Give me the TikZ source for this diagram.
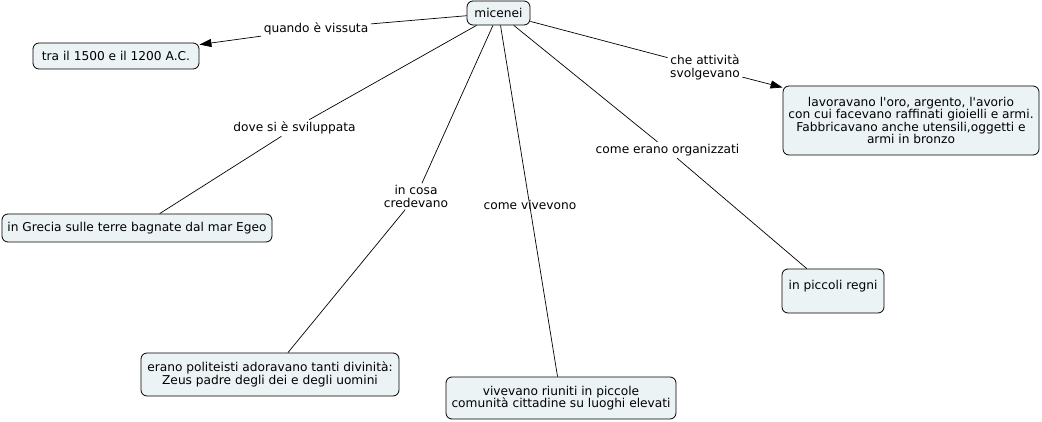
\documentclass[tikz,border=0pt]{standalone}
\usepackage{fontspec}
\setmainfont{DejaVu Sans}
\usetikzlibrary{arrows.meta}
\definecolor{cfill}{HTML}{ECF3F5}
\begin{document}
\begin{tikzpicture}[x=1pt,y=-1pt,
  every node/.style={font=\fontsize{12.2}{12.5}\selectfont, align=center},
  concept/.style={draw=black, line width=0.8pt, fill=cfill, rounded corners=6pt, inner sep=0pt},
  linklab/.style={inner xsep=2.5pt, inner ysep=2pt},
  conn/.style={draw=black, line width=0.7pt},
  arr/.style={conn, -{Triangle[length=12pt,width=8pt]}}]
\useasboundingbox[fill=white] (0,0) rectangle (1042,422);
% concepts
\node[concept, minimum width=63pt, minimum height=24pt] (mic) at (498.5,13) {micenei};
\node[concept, minimum width=166pt, minimum height=26pt] (tra) at (116,56) {tra il 1500 e il 1200 A.C.};
\node[concept, minimum width=270pt, minimum height=28pt] (gre) at (137,228) {in Grecia sulle terre bagnate dal mar Egeo};
\node[concept, minimum width=258pt, minimum height=43pt] (pol) at (270,374.5) {erano politeisti adoravano tanti divinità:\\Zeus padre degli dei e degli uomini};
\node[concept, minimum width=230pt, minimum height=42pt] (viv) at (561,398) {vivevano riuniti in piccole\\comunità cittadine su luoghi elevati};
\node[concept, minimum width=102pt, minimum height=44pt] (reg) at (833,291) {in piccoli regni\\\mbox{}};
\node[concept, minimum width=256pt, minimum height=69pt] (lav) at (911,120.5) {lavoravano l\textquotesingle oro, argento, l\textquotesingle avorio\\con cui facevano raffinati gioielli e armi.\\Fabbricavano anche utensili,oggetti e\\armi in bronzo};
% link labels
\node[linklab] (lq) at (316,28.6) {quando è vissuta};
\node[linklab] (ld) at (294.5,128) {dove si è sviluppata};
\node[linklab] (lc) at (416,196.5) {in cosa\\credevano};
\node[linklab] (lv) at (530,205) {come vivevono};
\node[linklab] (lo) at (667.5,150) {come erano organizzati};
\node[linklab] (la) at (705,67.5) {che attività\\svolgevano};
% connectors
\draw[conn] (mic) -- (lq);
\draw[arr] (lq) -- (tra);
\draw[conn] (mic) -- (ld);
\draw[conn] (ld) -- (gre);
\draw[conn] (mic) -- (lc);
\draw[conn] (lc) -- (pol);
\draw[conn] (mic) -- (viv);
\draw[conn] (mic) -- (lo);
\draw[conn] (lo) -- (reg);
\draw[conn] (mic) -- (la);
\draw[arr] (la) -- (lav);
\end{tikzpicture}
\end{document}
